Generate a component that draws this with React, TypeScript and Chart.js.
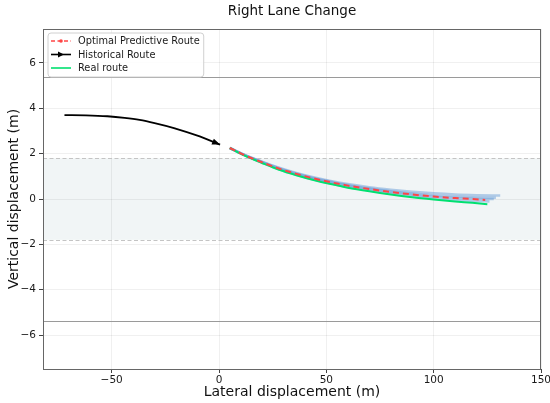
import React, { useEffect, useRef } from "react";
import { Chart, registerables } from "chart.js";

Chart.register(...registerables);

// ---- data ----
const xTicks = [-50, 0, 50, 100, 150];
const yTicks = [-6, -4, -2, 0, 2, 4, 6];
const xRange = [-82, 150];
const yRange = [-7.5, 7.5];
const laneEdge = 5.4;
const laneInner = 1.8;

const histX = [-72, -62, -52, -44, -37, -30, -21, -9, 0.5];
const histY = [3.7, 3.69, 3.65, 3.58, 3.49, 3.35, 3.13, 2.76, 2.4];

const optX = [5, 12, 20, 28, 36, 44, 52, 60, 70, 80, 90, 100, 110, 118, 124];
const optY = [2.25, 1.93, 1.62, 1.34, 1.11, 0.91, 0.74, 0.59, 0.44, 0.31, 0.2, 0.11, 0.04, 0.0, -0.04];

const realX = [5, 12, 20, 28, 36, 44, 52, 60, 70, 80, 90, 100, 110, 118, 125];
const realY = [2.25, 1.91, 1.59, 1.29, 1.05, 0.84, 0.66, 0.5, 0.34, 0.2, 0.08, -0.02, -0.11, -0.17, -0.23];

const cand1X = [5, 12, 20, 28, 36, 44, 52, 60, 70, 80, 90, 100, 110, 120, 131];
const cand1Y = [2.25, 1.95, 1.65, 1.38, 1.15, 0.96, 0.8, 0.66, 0.52, 0.41, 0.32, 0.25, 0.2, 0.17, 0.15];
const cand2X = [5, 12, 20, 28, 36, 44, 52, 60, 70, 80, 90, 100, 110, 120, 129];
const cand2Y = [2.25, 1.94, 1.64, 1.36, 1.13, 0.93, 0.77, 0.62, 0.47, 0.34, 0.24, 0.16, 0.1, 0.07, 0.05];
const cand3X = [5, 12, 20, 28, 36, 44, 52, 60, 70, 80, 90, 100, 110, 120, 128];
const cand3Y = [2.25, 1.93, 1.63, 1.34, 1.11, 0.91, 0.74, 0.59, 0.44, 0.31, 0.2, 0.11, 0.05, 0.01, 0.0];
const cand4X = [5, 12, 20, 28, 36, 44, 52, 60, 70, 80, 90, 100, 110, 120, 126];
const cand4Y = [2.25, 1.92, 1.61, 1.31, 1.07, 0.86, 0.69, 0.53, 0.38, 0.24, 0.13, 0.03, -0.04, -0.09, -0.11];

const legendLabels = ["Optimal Predictive Route", "Historical Route", "Real route"];
const titleText = "Right Lane Change";
const xTitle = "Lateral displacement (m)";
const yTitle = "Vertical displacement (m)";

const pts = (xs: number[], ys: number[]) => xs.map((x, i) => ({ x, y: ys[i] }));
const fmt = (v: number) => String(v).replace("-", "\u2212");

const FONT = "'DejaVu Sans', sans-serif";
const RED = "#ff4545";
const GREEN = "#00e070";
const BLUE = "rgba(110,160,215,0.5)";

function drawArrowHead(ctx: CanvasRenderingContext2D, x0: number, y0: number, x1: number, y1: number, len: number, half: number) {
  const ang = Math.atan2(y1 - y0, x1 - x0);
  ctx.beginPath();
  ctx.moveTo(x1, y1);
  ctx.lineTo(x1 - len * Math.cos(ang) + half * Math.sin(ang), y1 - len * Math.sin(ang) - half * Math.cos(ang));
  ctx.lineTo(x1 - len * Math.cos(ang) - half * Math.sin(ang), y1 - len * Math.sin(ang) + half * Math.cos(ang));
  ctx.closePath();
  ctx.fill();
}

const decor = {
  id: "decor",
  beforeDraw(chart: any) {
    const { ctx, chartArea: a, scales } = chart;
    const y = scales.y;
    ctx.save();
    ctx.fillStyle = "#ffffff";
    ctx.fillRect(0, 0, chart.width, chart.height);
    const t = y.getPixelForValue(laneInner);
    const b = y.getPixelForValue(-laneInner);
    ctx.fillStyle = "#f1f5f6";
    ctx.fillRect(a.left, t, a.right - a.left, b - t);
    ctx.restore();
  },
  beforeDatasetsDraw(chart: any) {
    const { ctx, chartArea: a, scales } = chart;
    const y = scales.y;
    ctx.save();
    ctx.lineWidth = 1.2;
    ctx.strokeStyle = "#9a9a9a";
    [laneEdge, -laneEdge].forEach((v) => {
      const p = Math.round(y.getPixelForValue(v)) + 0.5;
      ctx.beginPath();
      ctx.moveTo(a.left, p);
      ctx.lineTo(a.right, p);
      ctx.stroke();
    });
    ctx.strokeStyle = "#c4c4c4";
    ctx.lineWidth = 1;
    ctx.setLineDash([4, 2.5]);
    [laneInner, -laneInner].forEach((v) => {
      const p = Math.round(y.getPixelForValue(v)) + 0.5;
      ctx.beginPath();
      ctx.moveTo(a.left, p);
      ctx.lineTo(a.right, p);
      ctx.stroke();
    });
    ctx.restore();
  },
  afterDatasetsDraw(chart: any) {
    const { ctx, scales } = chart;
    const { x, y } = scales;
    const n = histX.length;
    const x0 = x.getPixelForValue(histX[n - 2]);
    const y0 = y.getPixelForValue(histY[n - 2]);
    const x1 = x.getPixelForValue(histX[n - 1]);
    const y1 = y.getPixelForValue(histY[n - 1]);
    ctx.save();
    ctx.fillStyle = "#000";
    drawArrowHead(ctx, x0, y0, x1, y1, 8, 3.2);
    ctx.restore();
  },
  afterDraw(chart: any) {
    const { ctx, chartArea: a } = chart;
    ctx.save();
    // frame
    ctx.strokeStyle = "#666";
    ctx.lineWidth = 1;
    ctx.strokeRect(Math.round(a.left) + 0.5, Math.round(a.top) + 0.5, Math.round(a.right - a.left) - 1, Math.round(a.bottom - a.top));

    // legend
    ctx.font = `9.8px ${FONT}`;
    const tw = Math.max(...legendLabels.map((l) => ctx.measureText(l).width));
    const lx = a.left + 5;
    const ly = a.top + 4;
    const lw = 30 + tw + 4;
    const lh = 44;
    ctx.beginPath();
    const r = 3;
    ctx.moveTo(lx + r, ly);
    ctx.arcTo(lx + lw, ly, lx + lw, ly + lh, r);
    ctx.arcTo(lx + lw, ly + lh, lx, ly + lh, r);
    ctx.arcTo(lx, ly + lh, lx, ly, r);
    ctx.arcTo(lx, ly, lx + lw, ly, r);
    ctx.closePath();
    ctx.fillStyle = "rgba(255,255,255,0.85)";
    ctx.fill();
    ctx.strokeStyle = "#d0d0d0";
    ctx.lineWidth = 1;
    ctx.stroke();

    const rows = [ly + 8, ly + 21.5, ly + 35];
    const s0 = lx + 3;
    const s1 = lx + 23;
    // red dashed with dot
    ctx.strokeStyle = RED;
    ctx.lineWidth = 1.6;
    ctx.setLineDash([4, 2.5]);
    ctx.beginPath();
    ctx.moveTo(s0, rows[0]);
    ctx.lineTo(s1, rows[0]);
    ctx.stroke();
    ctx.setLineDash([]);
    ctx.fillStyle = RED;
    ctx.beginPath();
    ctx.arc((s0 + s1) / 2, rows[0], 1.8, 0, Math.PI * 2);
    ctx.fill();
    // black with arrow
    ctx.strokeStyle = "#000";
    ctx.lineWidth = 1.6;
    ctx.beginPath();
    ctx.moveTo(s0, rows[1]);
    ctx.lineTo(s1, rows[1]);
    ctx.stroke();
    ctx.fillStyle = "#000";
    drawArrowHead(ctx, s0, rows[1], (s0 + s1) / 2 + 3, rows[1], 6, 3);
    // green
    ctx.strokeStyle = GREEN;
    ctx.lineWidth = 1.6;
    ctx.beginPath();
    ctx.moveTo(s0, rows[2]);
    ctx.lineTo(s1, rows[2]);
    ctx.stroke();

    ctx.fillStyle = "#1a1a1a";
    ctx.textBaseline = "middle";
    ctx.textAlign = "left";
    legendLabels.forEach((l, i) => ctx.fillText(l, lx + 30, rows[i] + 0.5));

    // titles
    const cx = (a.left + a.right) / 2;
    ctx.fillStyle = "#111";
    ctx.textAlign = "center";
    ctx.textBaseline = "alphabetic";
    ctx.font = `13.5px ${FONT}`;
    ctx.fillText(titleText, cx, 15);
    ctx.font = `14px ${FONT}`;
    ctx.fillText(xTitle, cx, 396);
    ctx.save();
    ctx.translate(18, (a.top + a.bottom) / 2);
    ctx.rotate(-Math.PI / 2);
    ctx.fillText(yTitle, 0, 0);
    ctx.restore();
    ctx.restore();
  },
};

export default function App() {
  const ref = useRef<HTMLCanvasElement | null>(null);
  useEffect(() => {
    if (!ref.current) return;
    Chart.defaults.font.family = FONT;
    const line = (data: any, color: string, width: number, order: number, extra: any = {}) => ({
      data,
      borderColor: color,
      backgroundColor: color,
      borderWidth: width,
      showLine: true,
      pointRadius: 0,
      pointHoverRadius: 0,
      cubicInterpolationMode: "monotone",
      fill: false,
      order,
      ...extra,
    });
    const chart = new Chart(ref.current, {
      type: "scatter",
      data: {
        datasets: [
          line(pts(optX, optY), RED, 2, 0, { borderDash: [6, 4] }),
          line(pts(histX, histY), "#000", 1.8, 1),
          line(pts(realX, realY), GREEN, 2, 2),
          line(pts(cand1X, cand1Y), BLUE, 2.5, 3),
          line(pts(cand2X, cand2Y), BLUE, 2.5, 4),
          line(pts(cand3X, cand3Y), BLUE, 2.5, 5),
          line(pts(cand4X, cand4Y), BLUE, 2.5, 6),
        ] as any,
      },
      plugins: [decor],
      options: {
        responsive: false,
        animation: false,
        events: [],
        layout: { padding: { top: 29, right: 9, left: 0, bottom: 0 } },
        plugins: {
          legend: { display: false },
          title: { display: false },
          tooltip: { enabled: false },
        },
        scales: {
          x: {
            type: "linear",
            min: xRange[0],
            max: xRange[1],
            afterBuildTicks: (s: any) => {
              s.ticks = xTicks.map((v) => ({ value: v }));
            },
            afterFit: (s: any) => {
              s.height = 34;
              s.paddingLeft = 0;
              s.paddingRight = 0;
            },
            ticks: {
              callback: (v: any) => fmt(v),
              font: { size: 10.5, family: FONT },
              color: "#1a1a1a",
              padding: 1,
              maxRotation: 0,
              autoSkip: false,
            },
            grid: {
              color: "rgba(0,0,0,0.06)",
              tickColor: "#444",
              tickLength: 4,
            },
            border: { display: false },
          },
          y: {
            type: "linear",
            min: yRange[0],
            max: yRange[1],
            afterBuildTicks: (s: any) => {
              s.ticks = yTicks.map((v) => ({ value: v }));
            },
            afterFit: (s: any) => {
              s.width = 43;
              s.paddingTop = 0;
              s.paddingBottom = 0;
            },
            ticks: {
              callback: (v: any) => fmt(v),
              font: { size: 10.5, family: FONT },
              color: "#1a1a1a",
              padding: 3,
              autoSkip: false,
            },
            grid: {
              color: "rgba(0,0,0,0.06)",
              tickColor: "#444",
              tickLength: 4,
            },
            border: { display: false },
          },
        },
      } as any,
    });
    return () => chart.destroy();
  }, []);
  return (
    <div style={{ position: "absolute", left: 0, top: 0, width: 550, height: 403 }}>
      <canvas ref={ref} width={550} height={403} style={{ width: 550, height: 403 }} />
    </div>
  );
}
